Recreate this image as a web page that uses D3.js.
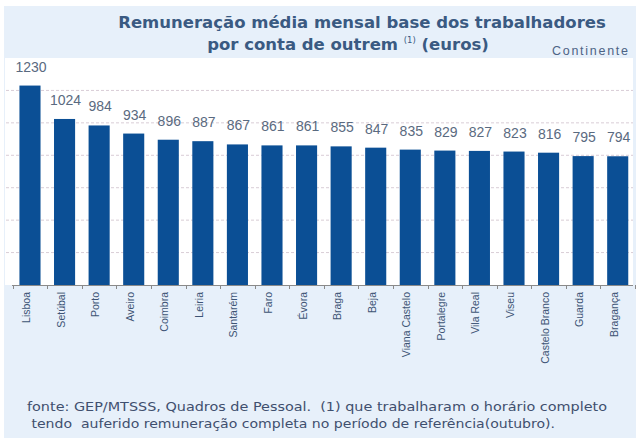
<!DOCTYPE html>
<html>
<head>
<meta charset="utf-8">
<script src="https://cdn.jsdelivr.net/npm/d3@7/dist/d3.min.js"></script>
<style>
  html, body { margin: 0; padding: 0; background: #ffffff; }
  svg { display: block; }
</style>
</head>
<body>
<svg id="chart" width="636" height="441"></svg>
<script>
const categories = ["Lisboa", "Setúbal", "Porto", "Aveiro", "Coimbra", "Leiria", "Santarém", "Faro", "Évora", "Braga", "Beja", "Viana Castelo", "Portalegre", "Vila Real", "Viseu", "Castelo Branco", "Guarda", "Bragança"];
const values = [1230, 1024, 984, 934, 896, 887, 867, 861, 861, 855, 847, 835, 829, 827, 823, 816, 795, 794];
const gridTicks = [200, 400, 600, 800, 1000, 1200];
const titleLine1 = "Remuneração média mensal base dos trabalhadores";
const titleLine2a = "por conta de outrem ";
const titleSup = "(1)";
const titleLine2b = " (euros)";
const regionLabel = "Continente";
const footLine1 = "fonte: GEP/MTSSS, Quadros de Pessoal.  (1) que trabalharam o horário completo";
const footLine2 = " tendo  auferido remuneração completa no período de referência(outubro).";

const svg = d3.select("#chart");

// panel background
svg.append("rect").attr("x", 4).attr("y", 6).attr("width", 632).attr("height", 432).attr("fill", "#e7f0fa");
// plot area
const plotTop = 58, plotBottom = 285, plotLeft = 5, plotRight = 633;
svg.append("rect").attr("x", plotLeft).attr("y", plotTop).attr("width", plotRight - plotLeft).attr("height", plotBottom - plotTop).attr("fill", "#ffffff");

const x = d3.scaleBand().domain(categories).range([12.7, 635]).paddingInner(0.39).paddingOuter(0.195);
const y = d3.scaleLinear().domain([0, 1400]).range([plotBottom, plotTop]);

// gridlines
svg.append("g").selectAll("line").data(gridTicks).join("line")
  .attr("x1", plotLeft + 1).attr("x2", plotRight)
  .attr("y1", d => y(d)).attr("y2", d => y(d))
  .attr("stroke", "#d9cdd6").attr("stroke-width", 1).attr("stroke-dasharray", "3,2");

// bars
svg.append("g").selectAll("rect").data(values).join("rect")
  .attr("x", (d, i) => x(categories[i]))
  .attr("width", x.bandwidth())
  .attr("y", d => y(d))
  .attr("height", d => y(0) - y(d))
  .attr("fill", "#0b4f95");

// value labels
svg.append("g").selectAll("text").data(values).join("text")
  .attr("x", (d, i) => x(categories[i]) + x.bandwidth() / 2 + 1)
  .attr("y", d => y(d) - 14)
  .attr("text-anchor", "middle")
  .attr("font-family", "Liberation Sans, Arial, sans-serif")
  .attr("font-size", 14)
  .attr("fill", "#5a6a80")
  .text(d => d);

// x axis
const axis = d3.axisBottom(x).tickSize(0).tickPadding(0);
const gx = svg.append("g").attr("transform", `translate(0,${plotBottom})`).call(axis);
gx.select(".domain").attr("stroke", "#8a8a8a").attr("d", `M12,0.5H633`);
gx.selectAll(".tick text")
  .attr("transform", "rotate(-90)")
  .attr("text-anchor", "end")
  .attr("x", -7)
  .attr("y", 0)
  .attr("dy", "0.1em")
  .attr("dx", 0)
  .attr("font-family", "Liberation Sans, Arial, sans-serif")
  .attr("font-size", 10.5)
  .attr("fill", "#3d5475");
gx.selectAll(".tick").attr("transform", d => `translate(${x(d) + x.bandwidth() / 2 - 1},0)`);
// boundary ticks
const step = x.step();
const bounds = d3.range(categories.length + 1).map(i => x(categories[0]) - (step - x.bandwidth()) / 2 + i * step);
gx.append("g").selectAll("line").data(bounds).join("line")
  .attr("x1", d => Math.round(d) + 0.5).attr("x2", d => Math.round(d) + 0.5)
  .attr("y1", 0).attr("y2", 4)
  .attr("stroke", "#8a8a8a");

// title
const tFont = "DejaVu Sans, Verdana, sans-serif";
svg.append("text").attr("x", 362).attr("y", 28).attr("text-anchor", "middle")
  .attr("font-family", tFont).attr("font-weight", "bold").attr("font-size", 16.5)
  .attr("fill", "#3a5a82").text(titleLine1);
const t2 = svg.append("text").attr("x", 348).attr("y", 50).attr("text-anchor", "middle")
  .attr("font-family", tFont).attr("font-weight", "bold").attr("font-size", 16.5)
  .attr("fill", "#3a5a82");
t2.append("tspan").text(titleLine2a);
t2.append("tspan").attr("font-size", 8.5).attr("dy", -7).attr("font-weight", "normal").text(titleSup);
t2.append("tspan").attr("dy", 7).text(titleLine2b);

svg.append("text").attr("x", 628).attr("y", 55).attr("text-anchor", "end")
  .attr("font-family", "Liberation Sans, Arial, sans-serif").attr("font-size", 12.5)
  .attr("textLength", 76).attr("lengthAdjust", "spacing")
  .attr("fill", "#4d6385").text(regionLabel);

// footer
svg.append("text").attr("x", 27).attr("y", 411)
  .attr("font-family", "DejaVu Sans, sans-serif").attr("font-size", 13)
  .attr("textLength", 580).attr("lengthAdjust", "spacingAndGlyphs")
  .attr("fill", "#3f4f6e").style("white-space", "pre").text(footLine1);
svg.append("text").attr("x", 27).attr("y", 428)
  .attr("font-family", "DejaVu Sans, sans-serif").attr("font-size", 13)
  .attr("textLength", 528).attr("lengthAdjust", "spacingAndGlyphs")
  .attr("fill", "#3f4f6e").style("white-space", "pre").text(footLine2);
</script>
</body>
</html>
